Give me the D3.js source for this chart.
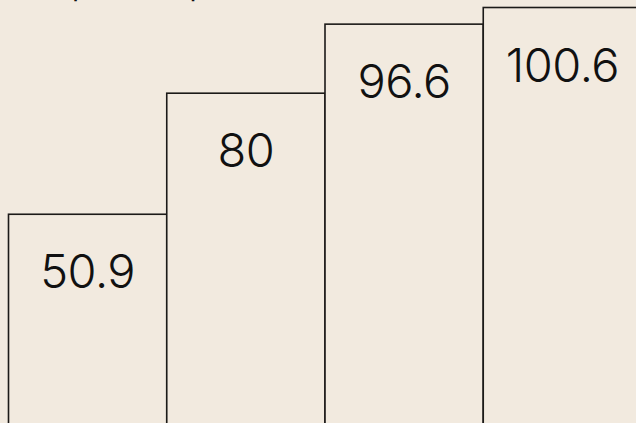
<!DOCTYPE html>
<html>
<head>
<meta charset="utf-8">
<script src="https://cdn.jsdelivr.net/npm/d3@7"></script>
<style>
  html, body { margin: 0; padding: 0; background: #f2eadf; }
  svg { display: block; }
  .bar { fill: #f2eadf; stroke: #1c1a18; stroke-width: 1.6; }
  .label { font-family: Inter, sans-serif; font-weight: 300; font-size: 47px; letter-spacing: -0.5px; fill: #111; }
  .title { font-family: Inter, sans-serif; font-weight: 700; font-size: 17px; fill: #111; }
</style>
</head>
<body>
<svg></svg>
<script>
var categories = ["Q1", "Q2", "Q3", "Q4"];
var values = [50.9, 80, 96.6, 100.6];
var labels = ["50.9", "80", "96.6", "100.6"];

var svgWidth = 636, svgHeight = 423;
var svg = d3.select("svg")
	.attr("width", svgWidth)
	.attr("height", svgHeight);

var xScale = d3.scaleBand()
	.domain(categories)
	.range([8.5, 641.5])
	.padding(0);

var yScale = d3.scaleLinear()
	.domain([0, 100])
	.range([426, 10]);

// title sits above the visible area, only descenders show
svg.append("text")
	.attr("class", "title")
	.attr("x", 20)
	.attr("y", -2)
	.text("Brand presence compared");

svg.selectAll("rect.bar")
	.data(values)
	.enter()
	.append("rect")
	.attr("class", "bar")
	.attr("x", function(d, i) { return xScale(categories[i]); })
	.attr("y", function(d) { return yScale(d); })
	.attr("width", xScale.bandwidth())
	.attr("height", function(d) { return yScale(0) - yScale(d) + 10; });

svg.selectAll("text.label")
	.data(values)
	.enter()
	.append("text")
	.attr("class", "label")
	.attr("text-anchor", "middle")
	.attr("x", function(d, i) { return xScale(categories[i]) + xScale.bandwidth() / 2; })
	.attr("y", function(d) { return yScale(d) + 74; })
	.text(function(d, i) { return labels[i]; });
</script>
</body>
</html>
